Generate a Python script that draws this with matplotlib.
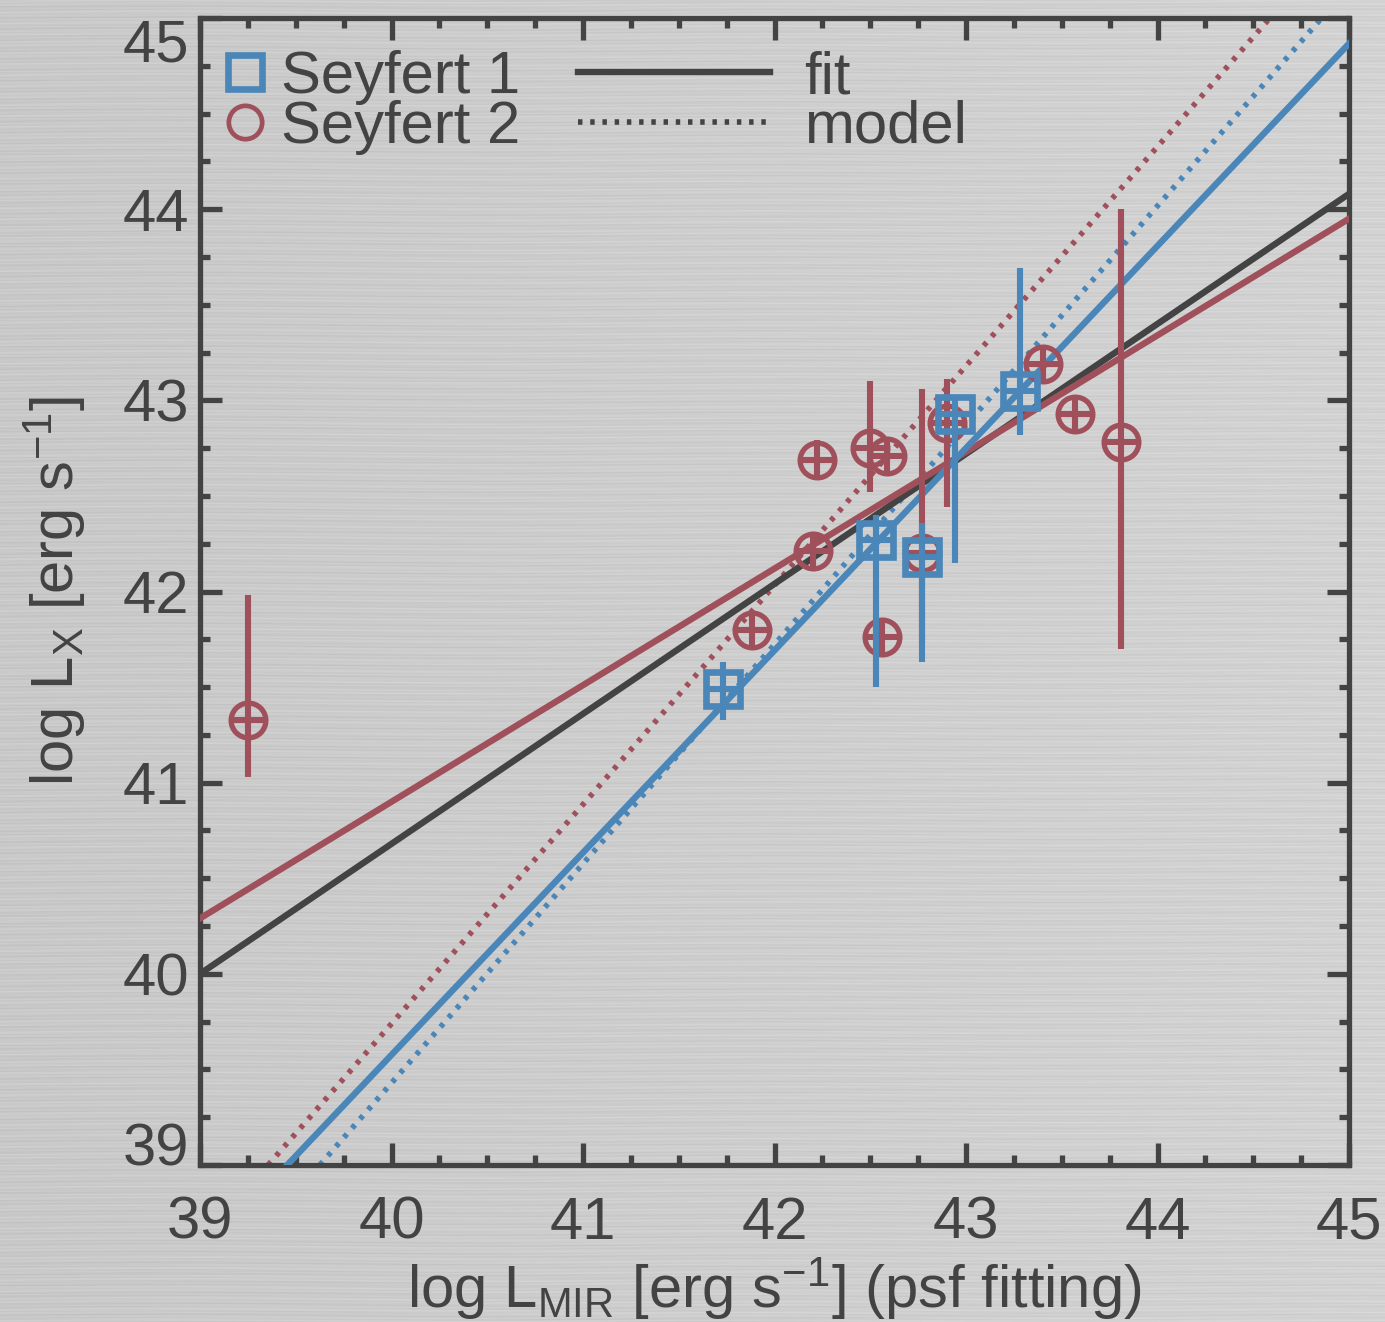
import matplotlib
matplotlib.use("Agg")
import matplotlib.pyplot as plt
from matplotlib.lines import Line2D
import numpy as np

# Seyfert 1 (blue squares)
sy1_x = [41.73, 42.53, 42.77, 42.94, 43.28]
sy1_y = [41.49, 42.27, 42.18, 42.93, 43.05]
sy1_yerr_lo = [0.16, 0.77, 0.55, 0.78, 0.23]
sy1_yerr_hi = [0.14, 0.13, 0.18, 0.08, 0.64]

# Seyfert 2 (red circles)
sy2_x = [39.25, 41.88, 42.20, 42.22, 42.50, 42.59, 42.56, 42.77, 42.90, 43.40, 43.57, 43.81]
sy2_y = [41.33, 41.80, 42.21, 42.69, 42.75, 42.71, 41.76, 42.20, 42.88, 43.19, 42.93, 42.78]
sy2_yerr_hi = [0.65, 0.10, 0.10, 0.10, 0.35, 0.10, 0.10, 0.86, 0.23, 0.10, 0.10, 1.22]
sy2_yerr_lo = [0.30, 0.10, 0.10, 0.10, 0.23, 0.10, 0.10, 0.47, 0.44, 0.10, 0.10, 1.08]
x_err = 0.09

# lines: value at log L_MIR = 43 and slope
fit_all = (42.72, 0.68)
fit_sy2 = (42.73, 0.61)
fit_sy1 = (42.75, 1.058)
model_sy2 = (43.18, 1.147)
model_sy1 = (42.87, 1.147)

blue = '#4a86b8'
red = '#a0505b'
dark = '#434343'
FS = 43

plt.rcParams['font.family'] = ['Liberation Sans', 'DejaVu Sans']
plt.rcParams['mathtext.fontset'] = 'custom'
plt.rcParams['mathtext.rm'] = 'Liberation Sans'
plt.rcParams['mathtext.it'] = 'Liberation Sans:italic'
plt.rcParams['mathtext.bf'] = 'Liberation Sans:bold'

fig = plt.figure(figsize=(13.85, 13.22), dpi=100)

# brushed metal-ish background
bg = fig.add_axes([0, 0, 1, 1], zorder=-10)
rows = np.arange(1322)[:, None]
cols = np.arange(1385)[None, :]
tex = (0.785 + 0.04 * cols / 1385.0
       + 0.014 * np.sin(rows * 1.7 + 2.0 * np.sin(cols / 97.0))
       + 0.010 * np.sin(rows * 0.61 + 1.5 * np.sin(cols / 143.0))
       + 0.007 * np.sin(rows * 3.9 + np.sin(cols / 61.0)))
bg.imshow(np.clip(tex, 0, 1), cmap='gray', vmin=0, vmax=1, aspect='auto')
bg.axis('off')

ax = fig.add_axes([200 / 1385, 1 - 1165 / 1322, 1149 / 1385, 1147 / 1322])
ax.set_facecolor('none')
ax.set_xlim(39, 45)
ax.set_ylim(39, 45)

lw = 4.6
dot = (0, (0.8, 1.4))
ax.axline((43, model_sy2[0]), slope=model_sy2[1], color=red, lw=4.0, ls=dot, zorder=2)
ax.axline((43, model_sy1[0]), slope=model_sy1[1], color=blue, lw=4.0, ls=dot, zorder=2)
ax.axline((43, fit_all[0]), slope=fit_all[1], color=dark, lw=lw, zorder=3)
ax.axline((43, fit_sy2[0]), slope=fit_sy2[1], color=red, lw=lw, zorder=3)
ax.axline((43, fit_sy1[0]), slope=fit_sy1[1], color=blue, lw=lw, zorder=3)

ax.errorbar(sy2_x, sy2_y, xerr=x_err, yerr=[sy2_yerr_lo, sy2_yerr_hi], fmt='o',
            ms=25, mfc='none', mec=red, mew=3.8, ecolor=red, elinewidth=4.4,
            capsize=0, zorder=4)
ax.errorbar(sy1_x, sy1_y, xerr=x_err, yerr=[sy1_yerr_lo, sy1_yerr_hi], fmt='s',
            ms=25, mfc='none', mec=blue, mew=4.8, ecolor=blue, elinewidth=4.4,
            capsize=0, zorder=5)

ax.set_xticks(np.arange(39, 46, 1))
ax.set_yticks(np.arange(39, 46, 1))
ax.set_xticks(np.arange(39, 45.01, 0.25), minor=True)
ax.set_yticks(np.arange(39, 45.01, 0.25), minor=True)
ax.tick_params(which='both', direction='in', top=True, right=True, color=dark,
               labelcolor=dark, labelsize=FS)
ax.tick_params(which='major', length=16, width=3.8)
ax.tick_params(which='minor', length=7.5, width=3.8)
ax.tick_params(axis='x', pad=22)
ax.tick_params(axis='y', pad=8)
for s in ax.spines.values():
    s.set_linewidth(3.8)
    s.set_color(dark)

ylabs = ax.get_yticklabels()
ylabs[0].set_va('baseline')
ylabs[-1].set_va('top')

ax.set_xlabel(r'log L$_{\rm MIR}$ [erg s$^{-1}$] (psf fitting)', fontsize=FS, color=dark)
ax.set_ylabel(r'log L$_{\rm X}$ [erg s$^{-1}$]', fontsize=FS, color=dark)
ax.xaxis.set_label_coords(0.5, -0.124)
ax.xaxis.label.set_va('baseline')
ax.yaxis.set_label_coords(-0.127, 0.5)
ax.yaxis.label.set_va('center')

h1 = Line2D([], [], marker='s', ls='none', ms=24, mfc='none', mec=blue, mew=4.8)
h2 = Line2D([], [], marker='o', ls='none', ms=24, mfc='none', mec=red, mew=3.4)
leg1 = ax.legend([h1, h2], ['Seyfert 1', 'Seyfert 2'], loc='upper left',
                 bbox_to_anchor=(0.024, 0.972), frameon=False, handlelength=0.6,
                 handletextpad=0.3, labelspacing=-0.09, borderpad=0,
                 borderaxespad=0, fontsize=FS, labelcolor=dark)
ax.add_artist(leg1)
h3 = Line2D([], [], color=dark, lw=lw)
h4 = Line2D([], [], color=dark, lw=4.0, ls=dot)
ax.legend([h3, h4], ['fit', 'model'], loc='upper left',
          bbox_to_anchor=(0.329, 0.972), frameon=False, handlelength=3.22,
          handletextpad=0.57, labelspacing=-0.09, borderpad=0,
          borderaxespad=0, fontsize=FS, labelcolor=dark)

fig.savefig('out.png', dpi=100)
